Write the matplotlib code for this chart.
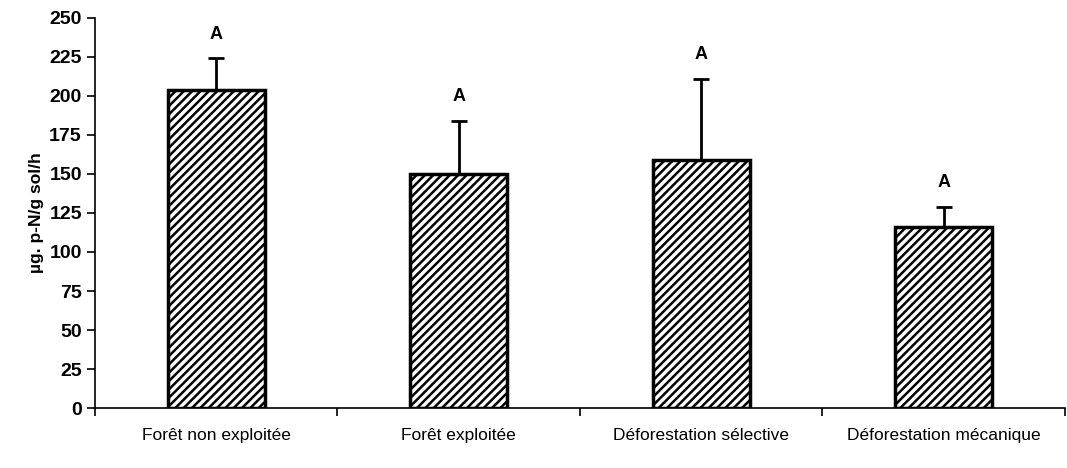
import numpy as np
import matplotlib.pyplot as plt

plt.rcParams['font.family'] = ['Liberation Sans', 'DejaVu Sans']
plt.rcParams['hatch.linewidth'] = 1.8

# data
categories = ['Forêt non exploitée', 'Forêt exploitée',
              'Déforestation sélective', 'Déforestation mécanique']
means = [204, 150, 159, 116]
errors = [20, 34, 52, 13]
letters = ['A', 'A', 'A', 'A']

fig = plt.figure(figsize=(10.67, 4.68), dpi=100)
ax = fig.add_axes([0.089, 0.128, 0.909, 0.834])

x = np.arange(len(categories))
ax.bar(x, means, width=0.4, color='white', edgecolor='black',
       linewidth=2.5, hatch='////', zorder=2)
ax.errorbar(x, means, yerr=[np.zeros(len(x)), errors], fmt='none',
            ecolor='black', elinewidth=2, capsize=6, capthick=2, zorder=3)

# significance letters above the error bars
for xi, m, e, l in zip(x, means, errors, letters):
    ax.text(xi, m + e + 10, l, ha='center', va='bottom',
            fontsize=13, fontweight='bold')

ax.set_xlim(-0.5, 3.5)
ax.set_ylim(0, 250)
ax.set_yticks(np.arange(0, 251, 25))
ax.tick_params(axis='y', labelsize=14, direction='out', length=6, width=1.2)
for t in ax.get_yticklabels():
    t.set_fontweight('bold')

# categories in the middle, ticks on the boundaries
ax.set_xticks(np.arange(-0.5, 4, 1))
ax.set_xticklabels([])
ax.set_xticks(x, minor=True)
ax.set_xticklabels(categories, minor=True, fontsize=12.5)
ax.tick_params(axis='x', which='major', direction='out', length=6, width=1.2)
ax.tick_params(axis='x', which='minor', length=0, pad=14)

ax.set_ylabel('µg. p-N/g sol/h', fontsize=12.5, fontweight='bold')

ax.spines['top'].set_visible(False)
ax.spines['right'].set_visible(False)
ax.spines['left'].set_linewidth(1.2)
ax.spines['bottom'].set_linewidth(1.2)

plt.savefig('out.png', dpi=100)
